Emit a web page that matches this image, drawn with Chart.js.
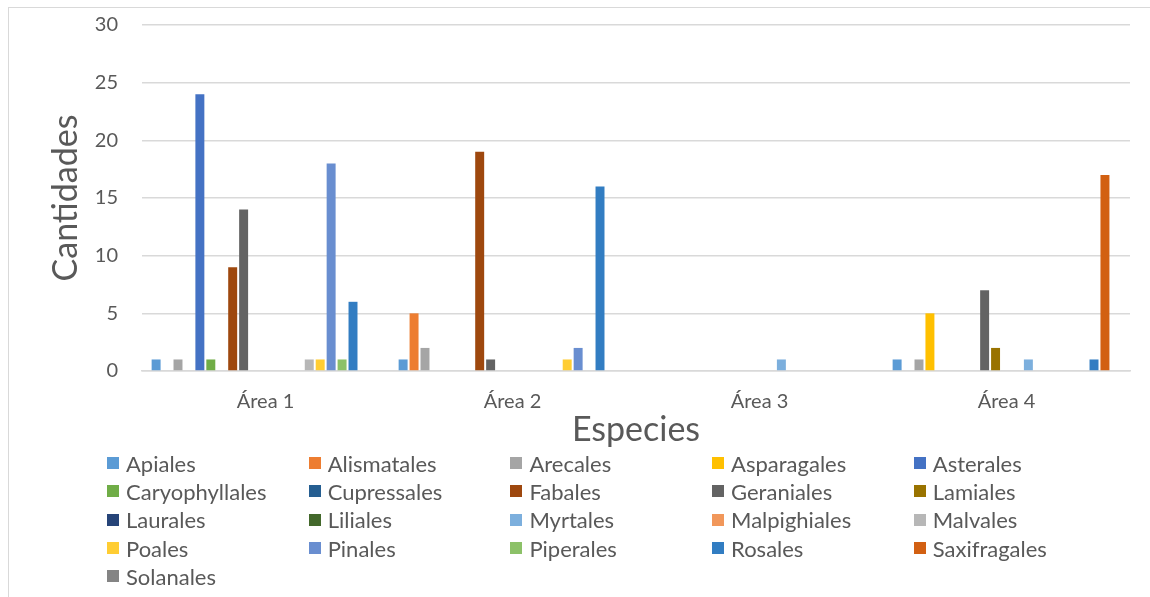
<!DOCTYPE html>
<html>
<head>
<meta charset="utf-8">
<script src="https://cdn.jsdelivr.net/npm/chart.js@4.4.1/dist/chart.umd.min.js"></script>
<style>
  html, body { margin: 0; padding: 0; background: #fff; }
  #wrap { position: relative; width: 1150px; height: 597px; overflow: hidden; }
  #frame { position: absolute; left: 8px; top: 7px; width: 1160px; height: 620px;
           border: 1.5px solid #d9d9d9; box-sizing: border-box; }
  #chart { position: absolute; left: 0; top: 0; }
  #legend { position: absolute; left: 107px; top: 449px; display: grid;
            grid-template-columns: repeat(5, 201.7px); grid-auto-rows: 28.3px;
            font-family: Lato, "Open Sans", sans-serif; font-size: 22px; color: #595959; }
  #legend .item { display: flex; align-items: center; white-space: nowrap; }
  #legend .box { width: 12px; height: 12px; margin-right: 7px; flex: none; }
</style>
</head>
<body>
<div id="wrap">
  <div id="frame"></div>
  <canvas id="chart" width="1150" height="597"></canvas>
  <div id="legend"></div>
</div>
<script>
// Areas sampled and the plant orders counted in each
const categories = ['Área 1', 'Área 2', 'Área 3', 'Área 4'];

const orders = ['Apiales', 'Alismatales', 'Arecales', 'Asparagales', 'Asterales',
  'Caryophyllales', 'Cupressales', 'Fabales', 'Geraniales', 'Lamiales',
  'Laurales', 'Liliales', 'Myrtales', 'Malpighiales', 'Malvales',
  'Poales', 'Pinales', 'Piperales', 'Rosales', 'Saxifragales', 'Solanales'];

const colors = ['#5B9BD5', '#ED7D31', '#A5A5A5', '#FFC000', '#4472C4',
  '#70AD47', '#255E91', '#9E480E', '#636363', '#997300',
  '#264478', '#43682B', '#7CAFDD', '#F1975A', '#B7B7B7',
  '#FFCD33', '#698ED0', '#8CC168', '#327DC2', '#D26012', '#848484'];

// Counts per order, one value per area
const apiales        = [1, 1, 0, 1];
const alismatales    = [0, 5, 0, 0];
const arecales       = [1, 2, 0, 1];
const asparagales    = [0, 0, 0, 5];
const asterales      = [24, 0, 0, 0];
const caryophyllales = [1, 0, 0, 0];
const cupressales    = [0, 0, 0, 0];
const fabales        = [9, 19, 0, 0];
const geraniales     = [14, 1, 0, 7];
const lamiales       = [0, 0, 0, 2];
const laurales       = [0, 0, 0, 0];
const liliales       = [0, 0, 0, 0];
const myrtales       = [0, 0, 1, 1];
const malpighiales   = [0, 0, 0, 0];
const malvales       = [1, 0, 0, 0];
const poales         = [1, 1, 0, 0];
const pinales        = [18, 2, 0, 0];
const piperales      = [1, 0, 0, 0];
const rosales        = [6, 16, 0, 1];
const saxifragales   = [0, 0, 0, 17];
const solanales      = [0, 0, 0, 0];

const seriesValues = [apiales, alismatales, arecales, asparagales, asterales,
  caryophyllales, cupressales, fabales, geraniales, lamiales,
  laurales, liliales, myrtales, malpighiales, malvales,
  poales, pinales, piperales, rosales, saxifragales, solanales];

const yTicks = [0, 5, 10, 15, 20, 25, 30];

const textColor = '#595959';
const gridColor = '#d9d9d9';
const fontFamily = 'Lato, "Open Sans", sans-serif';

const datasets = orders.map((name, i) => ({
  label: name,
  data: seriesValues[i],
  backgroundColor: colors[i],
  borderWidth: 0,
  categoryPercentage: 0.93,
  barPercentage: 0.82
}));

const chart = new Chart(document.getElementById('chart'), {
  type: 'bar',
  data: { labels: categories, datasets },
  options: {
    responsive: false,
    animation: false,
    layout: { padding: { top: 25, right: 20, left: 0, bottom: 146.6 } },
    plugins: { legend: { display: false }, tooltip: { enabled: false } },
    scales: {
      x: {
        grid: { display: false, drawTicks: false },
        border: { display: true, color: gridColor, width: 1.5 },
        ticks: { color: textColor, font: { family: fontFamily, size: 20 }, padding: 19, maxRotation: 0 },
        title: { display: true, text: 'Especies', color: textColor,
                 font: { family: fontFamily, size: 34 }, padding: { top: 0, bottom: 0 } },
        afterFit: (s) => { s.height = 79.4; }
      },
      y: {
        min: 0, max: 30,
        afterBuildTicks: (s) => { s.ticks = yTicks.map(v => ({ value: v })); },
        grid: { color: gridColor, lineWidth: 1.5, drawTicks: false },
        border: { display: false },
        ticks: { color: textColor, font: { family: fontFamily, size: 20 }, padding: 24 },
        title: { display: true, text: 'Cantidades', color: textColor,
                 font: { family: fontFamily, size: 34 }, padding: { top: 45.6, bottom: 0 } },
        afterFit: (s) => {
          s.width = 142;
          // keep the plot top fixed by the layout padding, not the tick padding
          s.paddingTop = 12;
          s.paddingBottom = 12;
        }
      }
    }
  }
});

// Legend laid out in five columns from the chart's own dataset styles
const legendEl = document.getElementById('legend');
chart.data.datasets.forEach((ds) => {
  const item = document.createElement('div');
  item.className = 'item';
  const box = document.createElement('span');
  box.className = 'box';
  box.style.background = ds.backgroundColor;
  const label = document.createElement('span');
  label.textContent = ds.label;
  item.appendChild(box);
  item.appendChild(label);
  legendEl.appendChild(item);
});
</script>
</body>
</html>
